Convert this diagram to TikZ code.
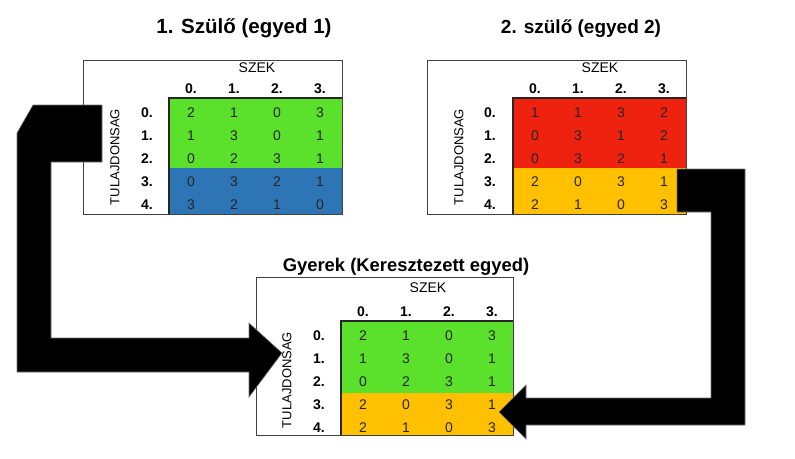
\documentclass[tikz,border=0pt]{standalone}
\usepackage{fontspec}
\setmainfont{Liberation Sans}
\usepackage{xcolor}
\usepackage{tikz}

\definecolor{zold}{HTML}{5BE02B}
\definecolor{kek}{HTML}{2E75B6}
\definecolor{piros}{HTML}{EE220E}
\definecolor{sarga}{HTML}{FFC000}

\begin{document}
\begin{tikzpicture}[x=1pt,y=-1pt,
  keret/.style={draw=black!75, line width=0.8pt},
  szinkeret/.style={draw=black!85, line width=1.6pt},
  szoveg/.style={inner sep=0pt, font=\fontsize{14}{16}\selectfont},
  fej/.style={inner sep=0pt, font=\bfseries\fontsize{14}{16}\selectfont},
  szam/.style={inner sep=0pt, text=black!85, font=\fontsize{14}{16}\selectfont},
  nyil/.style={fill=black, draw=black!55, line width=0.6pt}]
\useasboundingbox (0,0) rectangle (795,458);

% cimek
\node[anchor=base, font=\bfseries\fontsize{20.5}{24}\selectfont] (cim1) at (244,33) {1. Szülő (egyed 1)};
\node[anchor=base, font=\bfseries\fontsize{19}{22}\selectfont] (cim2) at (581,33) {2. szülő (egyed 2)};
\node[anchor=base, font=\bfseries\fontsize{18.4}{22}\selectfont] (cim3) at (406,271) {Gyerek (Keresztezett egyed)};

% 1. szulo
\draw[keret] (83,60) rectangle (342,214);
\fill[zold] (169,98) rectangle (342,168);
\fill[kek] (169,168) rectangle (342,214);
\draw[szinkeret] (169,214) -- (169,98) -- (342,98);
\node[szoveg] (szek1) at (257,68) {SZEK};
\node[szoveg, rotate=90, font=\fontsize{13}{15}\selectfont] (tul1) at (115,157) {TULAJDONSAG};
\foreach \i in {0,...,3}
  \node[fej] (o1-\i) at (191+43*\i,89) {\i.};
\foreach \i in {0,...,4}
  \node[fej] (s1-\i) at (147,113+23*\i) {\i.};
\foreach \i/\sor in {0/{2,1,0,3},1/{1,3,0,1},2/{0,2,3,1},3/{0,3,2,1},4/{3,2,1,0}}
  \foreach \ertek [count=\j from 0] in \sor
    \node[szam] (e1-\i-\j) at (191+43*\j,113+23*\i) {\ertek};

% 2. szulo
\draw[keret] (427,60) rectangle (686,214);
\fill[piros] (513,98) rectangle (686,168);
\fill[sarga] (513,168) rectangle (686,214);
\draw[szinkeret] (513,214) -- (513,98) -- (686,98);
\node[szoveg] (szek2) at (600,68) {SZEK};
\node[szoveg, rotate=90, font=\fontsize{13}{15}\selectfont] (tul2) at (459,157) {TULAJDONSAG};
\foreach \i in {0,...,3}
  \node[fej] (o2-\i) at (535+43*\i,89) {\i.};
\foreach \i in {0,...,4}
  \node[fej] (s2-\i) at (490,113+23*\i) {\i.};
\foreach \i/\sor in {0/{1,1,3,2},1/{0,3,1,2},2/{0,3,2,1},3/{2,0,3,1},4/{2,1,0,3}}
  \foreach \ertek [count=\j from 0] in \sor
    \node[szam] (e2-\i-\j) at (535+43*\j,113+23*\i) {\ertek};

% gyerek
\draw[keret] (256,277) rectangle (513,435);
\fill[zold] (341,321) rectangle (513,393);
\fill[sarga] (341,393) rectangle (513,435);
\draw[szinkeret] (341,435) -- (341,321) -- (513,321);
\node[szoveg] (szek3) at (428,288) {SZEK};
\node[szoveg, rotate=90, font=\fontsize{13}{15}\selectfont] (tul3) at (287,380) {TULAJDONSAG};
\foreach \i in {0,...,3}
  \node[fej] (o3-\i) at (363+43*\i,312) {\i.};
\foreach \i in {0,...,4}
  \node[fej] (s3-\i) at (319,336+22.8*\i) {\i.};
\foreach \i/\sor in {0/{2,1,0,3},1/{1,3,0,1},2/{0,2,3,1},3/{2,0,3,1},4/{2,1,0,3}}
  \foreach \ertek [count=\j from 0] in \sor
    \node[szam] (e3-\i-\j) at (363+43*\j,336+22.8*\i) {\ertek};

% nyilak
\draw[nyil] (33,105) -- (102,105) -- (102,162) -- (51,162) -- (51,338) -- (249,338)
  -- (249,323) -- (282,353) -- (249,397) -- (249,372) -- (17,372) -- (17,133) -- cycle;
\draw[nyil] (677,169) -- (745,169) -- (745,425) -- (526,425) -- (526,439) -- (499,412)
  -- (526,385) -- (526,398) -- (711,398) -- (711,212) -- (677,212) -- cycle;

\end{tikzpicture}
\end{document}
